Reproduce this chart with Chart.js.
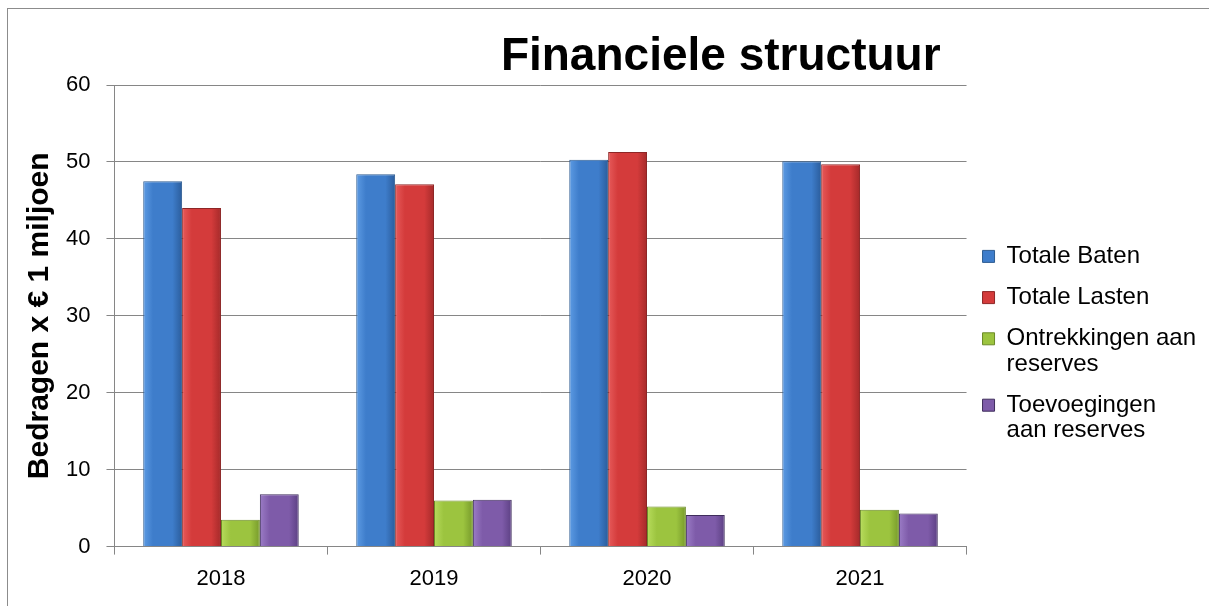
<!DOCTYPE html>
<html>
<head>
<meta charset="utf-8">
<script src="https://cdn.jsdelivr.net/npm/chart.js@4"></script>
<style>
  html, body { margin: 0; padding: 0; background: #fff; overflow: hidden; }
  #frame { position: absolute; left: 7px; top: 8px; width: 1220px; height: 620px; border: 1px solid #8c8c8c; }
  #wrap { position: absolute; left: 0; top: 0; width: 1209px; height: 606px; }
</style>
</head>
<body>
<div id="frame"></div>
<div id="wrap"><canvas id="financeChart"></canvas></div>
<script>
const years = ["2018", "2019", "2020", "2021"];
const totaleBaten = [47.5, 48.4, 50.3, 50.1];
const totaleLasten = [44.0, 47.1, 51.3, 49.7];
const ontrekkingen = [3.5, 6.0, 5.2, 4.8];
const toevoegingen = [6.8, 6.1, 4.1, 4.3];
const seriesNames = ["Totale Baten", "Totale Lasten", "Ontrekkingen aan\nreserves", "Toevoegingen\naan reserves"];

const catPct = 0.73;
const fontFam = "'Liberation Sans', Arial, sans-serif";
const palette = [
  { light: "#5d9be3", mid: "#3e7dcb", dark: "#2b5d9c", border: "#2f5d92" },
  { light: "#e65a5a", mid: "#d43b3b", dark: "#a52a2a", border: "#8e2626" },
  { light: "#b7dc5c", mid: "#9cc43f", dark: "#779a2b", border: "#6b8a27" },
  { light: "#9b7cc6", mid: "#7e5ba9", dark: "#5c4083", border: "#3f2d5c" },
];

function barFill(c) {
  const p = palette[c.datasetIndex];
  const chart = c.chart;
  const xs = chart.scales && chart.scales.x;
  if (!chart.chartArea || !xs || c.dataIndex === undefined) return p.mid;
  const catW = xs.width / years.length;
  const bw = catW * catPct / 4;
  const center = xs.getPixelForValue(c.dataIndex) + (c.datasetIndex - 1.5) * bw;
  const g = chart.ctx.createLinearGradient(center - bw / 2, 0, center + bw / 2, 0);
  g.addColorStop(0, p.light);
  g.addColorStop(0.25, p.mid);
  g.addColorStop(0.75, p.mid);
  g.addColorStop(1, p.dark);
  return g;
}

// title sits right-aligned above the plot, like the original
const titlePlugin = {
  id: "rightTitle",
  afterDraw(chart) {
    const ctx = chart.ctx;
    ctx.save();
    ctx.font = "bold 46px " + fontFam;
    ctx.fillStyle = "#000";
    ctx.textAlign = "right";
    ctx.textBaseline = "alphabetic";
    ctx.fillText("Financiele structuur", chart.chartArea.right - 26, 70);
    ctx.restore();
  }
};

const ctx = document.getElementById("financeChart").getContext("2d");

new Chart(ctx, {
  type: "bar",
  data: {
    labels: years,
    datasets: [totaleBaten, totaleLasten, ontrekkingen, toevoegingen].map((vals, i) => ({
      label: seriesNames[i],
      data: vals,
      backgroundColor: barFill,
      borderColor: palette[i].border,
      borderWidth: 1,
      categoryPercentage: catPct,
      barPercentage: 1,
    })),
  },
  options: {
    responsive: true,
    maintainAspectRatio: false,
    animation: false,
    layout: { padding: { top: 85, left: 18, right: 3, bottom: 3 } },
    plugins: {
      title: { display: false },
      tooltip: { enabled: false },
      legend: {
        position: "right",
        align: "center",
        labels: {
          color: "#000",
          font: { family: fontFam, size: 24, lineHeight: 1.05 },
          boxWidth: 12,
          boxHeight: 12,
          padding: 16,
          generateLabels(chart) {
            return chart.data.datasets.map((ds, i) => ({
              text: ds.label.split("\n"),
              fillStyle: palette[i].mid,
              strokeStyle: palette[i].border,
              lineWidth: 1,
              datasetIndex: i,
              hidden: false,
            }));
          },
        },
      },
    },
    scales: {
      x: {
        grid: { drawOnChartArea: false, color: "#868686", tickLength: 8, offset: true },
        border: { color: "#868686", width: 1 },
        ticks: { color: "#000", font: { family: fontFam, size: 22 }, padding: 11 },
      },
      y: {
        min: 0,
        max: 60,
        ticks: {
          stepSize: 10,
          color: "#000",
          padding: 16,
          font: { family: fontFam, size: 22 },
        },
        grid: { color: "#868686", tickLength: 8 },
        border: { color: "#868686", width: 1 },
        title: {
          display: true,
          text: "Bedragen x € 1 miljoen",
          color: "#000",
          font: { family: fontFam, size: 30, weight: "bold" },
          padding: { top: 4, bottom: -8 },
        },
      },
    },
  },
  plugins: [titlePlugin],
});
</script>
</body>
</html>
